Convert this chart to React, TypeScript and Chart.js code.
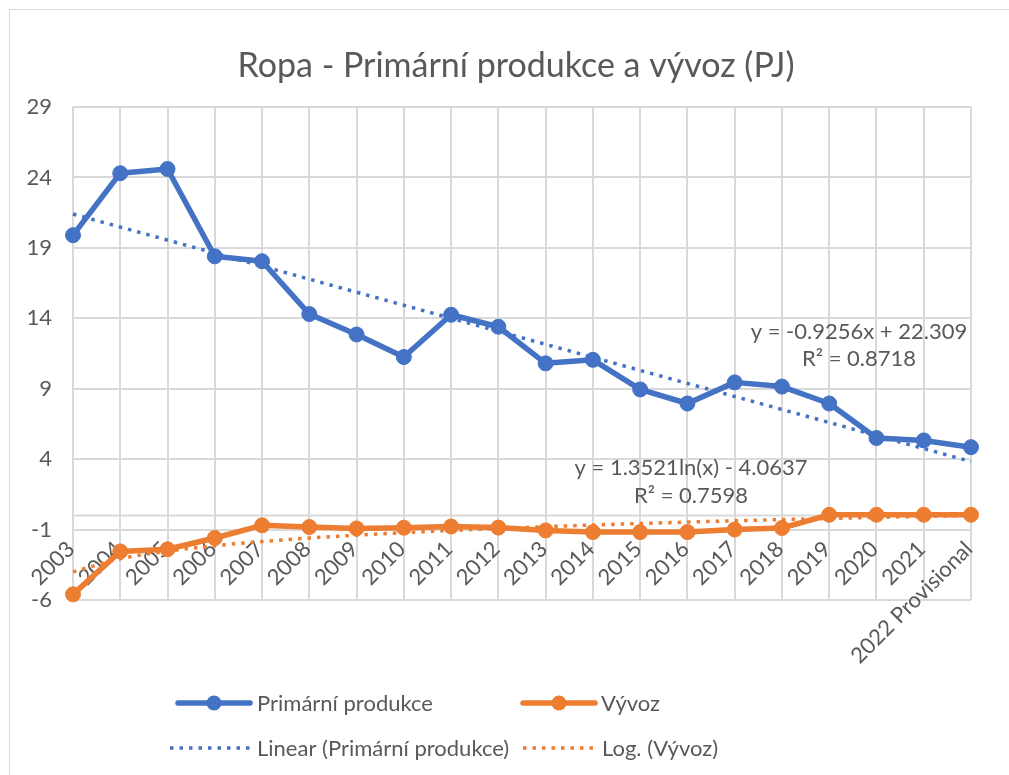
import React, { useEffect, useRef } from "react";
import { Chart, registerables } from "chart.js";

Chart.register(...registerables);

const chartTitle = "Ropa - Primární produkce a vývoz (PJ)";
const categories = [
  "2003", "2004", "2005", "2006", "2007", "2008", "2009", "2010", "2011", "2012",
  "2013", "2014", "2015", "2016", "2017", "2018", "2019", "2020", "2021", "2022 Provisional",
];
const seriesNames = ["Primární produkce", "Vývoz"];
const trendNames = ["Linear (Primární produkce)", "Log. (Vývoz)"];
const primaryProduction = [
  19.9, 24.3, 24.6, 18.4, 18.05, 14.3, 12.85, 11.25, 14.25, 13.4,
  10.8, 11.05, 8.95, 7.95, 9.45, 9.15, 7.95, 5.5, 5.33, 4.85,
];
const exportValues = [
  -5.6, -2.55, -2.4, -1.6, -0.7, -0.82, -0.92, -0.87, -0.78, -0.86,
  -1.06, -1.18, -1.18, -1.18, -1.0, -0.89, 0.05, 0.05, 0.05, 0.05,
];
const linearEquation = ["y = -0.9256x + 22.309", "R² = 0.8718"];
const logEquation = ["y = 1.3521ln(x) - 4.0637", "R² = 0.7598"];
const yMin = -6;
const yMax = 29;
const yStep = 5;

const FONT = "Lato, 'Open Sans', sans-serif";
const TEXT = "#595959";
const GRID = "#d9d9d9";
const BLUE = "#4472c4";
const ORANGE = "#ed7d31";

function fit(xs: number[], ys: number[]) {
  const n = xs.length;
  const mx = xs.reduce((a, b) => a + b, 0) / n;
  const my = ys.reduce((a, b) => a + b, 0) / n;
  let sxy = 0;
  let sxx = 0;
  for (let i = 0; i < n; i++) {
    sxy += (xs[i] - mx) * (ys[i] - my);
    sxx += (xs[i] - mx) * (xs[i] - mx);
  }
  const slope = sxy / sxx;
  return { slope, intercept: my - slope * mx };
}

const idx = categories.map((_, i) => i + 1);
const lin = fit(idx, primaryProduction);
const linearTrend = idx.map((x) => lin.intercept + lin.slope * x);
const lg = fit(idx.map((x) => Math.log(x)), exportValues);
const logTrend = idx.map((x) => lg.intercept + lg.slope * Math.log(x));

function solidSample(ctx: CanvasRenderingContext2D, x1: number, x2: number, y: number, color: string) {
  ctx.save();
  ctx.strokeStyle = color;
  ctx.fillStyle = color;
  ctx.lineWidth = 5.5;
  ctx.lineCap = "round";
  ctx.beginPath();
  ctx.moveTo(x1, y);
  ctx.lineTo(x2, y);
  ctx.stroke();
  ctx.beginPath();
  ctx.arc((x1 + x2) / 2, y, 7.5, 0, Math.PI * 2);
  ctx.fill();
  ctx.restore();
}

function dottedSample(ctx: CanvasRenderingContext2D, x1: number, x2: number, y: number, color: string) {
  ctx.save();
  ctx.strokeStyle = color;
  ctx.lineWidth = 3.5;
  ctx.setLineDash([3.5, 6]);
  ctx.beginPath();
  ctx.moveTo(x1, y);
  ctx.lineTo(x2, y);
  ctx.stroke();
  ctx.restore();
}

const overlayPlugin = {
  id: "overlay",
  beforeDatasetsDraw(chart: any) {
    const { ctx, chartArea, scales } = chart;
    const xs = scales.x;
    const ys = scales.y;
    const y0 = ys.getPixelForValue(0);
    ctx.save();
    ctx.strokeStyle = GRID;
    ctx.lineWidth = 2;
    ctx.beginPath();
    ctx.moveTo(chartArea.left, y0);
    ctx.lineTo(chartArea.right, y0);
    ctx.stroke();
    ctx.fillStyle = TEXT;
    ctx.font = `22px ${FONT}`;
    ctx.textAlign = "right";
    ctx.textBaseline = "middle";
    categories.forEach((c, i) => {
      const px = xs.getPixelForValue(i);
      ctx.save();
      ctx.translate(px - 2, y0 + 30);
      ctx.rotate(-Math.PI / 4);
      ctx.fillText(c, 0, 0);
      ctx.restore();
    });
    ctx.restore();
  },
  afterDraw(chart: any) {
    const { ctx } = chart;
    ctx.save();
    ctx.fillStyle = TEXT;
    ctx.textAlign = "center";
    ctx.textBaseline = "alphabetic";
    ctx.font = `34px ${FONT}`;
    ctx.fillText(chartTitle, 506, 67);

    ctx.textBaseline = "middle";
    ctx.font = `22px ${FONT}`;
    ctx.fillText(linearEquation[0], 849, 322);
    ctx.fillText(linearEquation[1], 849, 349);
    ctx.fillText(logEquation[0], 681, 458);
    ctx.fillText(logEquation[1], 681, 486);

    ctx.textAlign = "left";
    solidSample(ctx, 168, 240, 693, BLUE);
    ctx.fillStyle = TEXT;
    ctx.fillText(seriesNames[0], 247, 694);
    solidSample(ctx, 513, 585, 693, ORANGE);
    ctx.fillStyle = TEXT;
    ctx.fillText(seriesNames[1], 591, 694);
    dottedSample(ctx, 160, 240, 738, BLUE);
    ctx.fillText(trendNames[0], 247, 739);
    dottedSample(ctx, 513, 583, 738, ORANGE);
    ctx.fillText(trendNames[1], 592, 739);
    ctx.restore();
  },
};

export default function App() {
  const ref = useRef<HTMLCanvasElement | null>(null);

  useEffect(() => {
    if (!ref.current) return;
    const chart = new Chart(ref.current, {
      type: "line",
      data: {
        labels: categories,
        datasets: [
          {
            label: trendNames[0],
            data: linearTrend,
            borderColor: BLUE,
            borderWidth: 3.5,
            borderDash: [3.5, 6],
            pointRadius: 0,
            fill: false,
            order: 0,
            clip: false,
          },
          {
            label: trendNames[1],
            data: logTrend,
            borderColor: ORANGE,
            borderWidth: 3.5,
            borderDash: [3.5, 6],
            pointRadius: 0,
            cubicInterpolationMode: "monotone",
            fill: false,
            order: 0,
            clip: false,
          },
          {
            label: seriesNames[0],
            data: primaryProduction,
            borderColor: BLUE,
            backgroundColor: BLUE,
            borderWidth: 5.5,
            pointRadius: 7.5,
            pointBorderWidth: 1,
            pointBackgroundColor: BLUE,
            pointBorderColor: BLUE,
            borderJoinStyle: "round",
            borderCapStyle: "round",
            fill: false,
            order: 1,
            clip: false,
          },
          {
            label: seriesNames[1],
            data: exportValues,
            borderColor: ORANGE,
            backgroundColor: ORANGE,
            borderWidth: 5.5,
            pointRadius: 7.5,
            pointBorderWidth: 1,
            pointBackgroundColor: ORANGE,
            pointBorderColor: ORANGE,
            borderJoinStyle: "round",
            borderCapStyle: "round",
            fill: false,
            order: 1,
            clip: false,
          },
        ],
      },
      options: {
        animation: false,
        responsive: false,
        devicePixelRatio: 1,
        events: [],
        layout: { padding: { left: 0, right: 38, top: 97, bottom: 175 } },
        plugins: {
          legend: { display: false },
          title: { display: false },
          tooltip: { enabled: false },
        },
        scales: {
          x: {
            type: "category",
            offset: false,
            grid: { color: GRID, lineWidth: 2, drawTicks: false },
            border: { display: false },
            ticks: { display: false },
            afterFit(s: any) {
              s.height = 0;
            },
          },
          y: {
            min: yMin,
            max: yMax,
            ticks: {
              stepSize: yStep,
              padding: 21,
              color: TEXT,
              font: { family: FONT, size: 22 },
            },
            grid: { color: GRID, lineWidth: 2, drawTicks: false },
            border: { display: false },
            afterFit(s: any) {
              s.width = 63;
            },
          },
        },
      } as any,
      plugins: [overlayPlugin],
    });
    return () => chart.destroy();
  }, []);

  return (
    <div
      style={{
        position: "absolute",
        left: 9,
        top: 9,
        width: 1000,
        height: 766,
        boxSizing: "border-box",
        borderLeft: "1px solid #d9d9d9",
        borderTop: "1px solid #d9d9d9",
        background: "#fff",
        overflow: "hidden",
      }}
    >
      <canvas ref={ref} width={999} height={765} style={{ display: "block" }} />
    </div>
  );
}
